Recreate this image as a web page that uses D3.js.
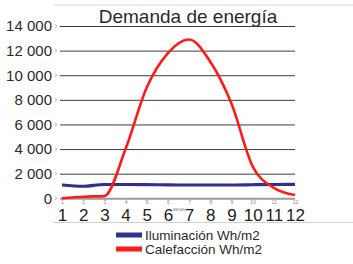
<!DOCTYPE html>
<html>
<head>
<meta charset="utf-8">
<script src="https://cdn.jsdelivr.net/npm/d3@7"></script>
<style>
  html, body { margin: 0; padding: 0; background: #fff; }
  svg { display: block; font-family: "Liberation Sans", Arial, sans-serif; }
</style>
</head>
<body>
<div id="chart"></div>
<script>
// data
const months = [1, 2, 3, 4, 5, 6, 7, 8, 9, 10, 11, 12];
const iluminacion = [1080, 980, 1120, 1120, 1110, 1090, 1080, 1080, 1080, 1100, 1120, 1130];
const calefaccion = [0, 130, 180, 4000, 9000, 11800, 12900, 11100, 7700, 2600, 850, 270];
const yTicks = [0, 2000, 4000, 6000, 8000, 10000, 12000, 14000];
const yLabels = ['0', '2 000', '4 000', '6 000', '8 000', '10 000', '12 000', '14 000'];
const seriesNames = ['Iluminación Wh/m2', 'Calefacción Wh/m2'];

const W = 353, H = 264;
const svg = d3.select('#chart').append('svg')
    .attr('width', W)
    .attr('height', H);

const x = d3.scaleLinear().domain([1, 12]).range([62, 295]);
const y = d3.scaleLinear().domain([0, 14000]).range([198.3, 26]);

// thin frame lines of the original figure
svg.append('line').attr('x1', 53).attr('x2', W).attr('y1', 5).attr('y2', 5)
    .attr('stroke', '#d6d6d6').attr('stroke-width', 1);
svg.append('line').attr('x1', 53).attr('x2', W).attr('y1', 222.5).attr('y2', 222.5)
    .attr('stroke', '#cfcfcf').attr('stroke-width', 1);

// y axis with gridlines
const yAxis = svg.append('g')
    .attr('transform', 'translate(60,0)')
    .call(d3.axisLeft(y)
        .tickValues(yTicks)
        .tickSize(-235)
        .tickPadding(8)
        .tickFormat((d, i) => yLabels[i]));
yAxis.select('.domain').remove();
yAxis.selectAll('line')
    .attr('stroke', d => d === 0 ? '#9a9a9a' : '#3c3c3c')
    .attr('stroke-width', d => d === 0 ? 2 : 1);
yAxis.selectAll('text')
    .attr('font-size', 15)
    .attr('fill', '#2a2a2a')
    .attr('font-family', '"Liberation Sans", Arial, sans-serif');
// tiny tick marks next to the labels
svg.selectAll('.ytick-mark').data(yTicks).join('path')
    .attr('d', d => `M55,${y(d) - 1.5}L57,${y(d)}L55,${y(d) + 1.5}`)
    .attr('fill', 'none').attr('stroke', '#999').attr('stroke-width', 0.7);

// title
svg.append('text')
    .attr('x', 188).attr('y', 22.5)
    .attr('text-anchor', 'middle')
    .attr('font-size', 19)
    .attr('fill', '#2a2a2a')
    .text('Demanda de energía');

// x axis: tiny labels, big labels
const xAxis = svg.append('g')
    .attr('transform', 'translate(0,204)')
    .call(d3.axisBottom(x).tickValues(months).tickSize(0).tickPadding(0));
xAxis.select('.domain').remove();
xAxis.selectAll('text')
    .attr('font-size', 5).attr('fill', '#888').attr('dy', 0).attr('y', 0);

const xAxisBig = svg.append('g')
    .attr('transform', 'translate(0,221)')
    .call(d3.axisBottom(x).tickValues(months).tickSize(0).tickPadding(0));
xAxisBig.select('.domain').remove();
xAxisBig.selectAll('text')
    .attr('font-size', 17).attr('fill', '#222').attr('dy', 0).attr('y', 0)
    .attr('font-family', '"Liberation Sans", Arial, sans-serif');

svg.append('text')
    .attr('x', 179).attr('y', 211)
    .attr('text-anchor', 'middle')
    .attr('font-size', 3.5).attr('fill', '#777')
    .text('MESES');

// lines
const line = d3.line()
    .x((d, i) => x(months[i]))
    .y(d => y(d))
    .curve(d3.curveMonotoneX);

svg.append('path')
    .datum(iluminacion)
    .attr('fill', 'none')
    .attr('stroke', '#2e3192')
    .attr('stroke-width', 3.2)
    .attr('d', line);

svg.append('path')
    .datum(calefaccion)
    .attr('fill', 'none')
    .attr('stroke', '#ff1a1a')
    .attr('stroke-width', 2.6)
    .attr('d', line);

// legend
const legendColors = ['#2e3192', '#ff1a1a'];
const legend = svg.append('g');
seriesNames.forEach((name, i) => {
    const cy = 235 + i * 14;
    legend.append('rect')
        .attr('x', 116).attr('y', cy - 2.5)
        .attr('width', 26).attr('height', 5)
        .attr('fill', legendColors[i]);
    legend.append('text')
        .attr('x', 145).attr('y', cy + 5)
        .attr('font-size', 13.5)
        .attr('fill', '#2a2a2a')
        .text(name);
});
</script>
</body>
</html>
